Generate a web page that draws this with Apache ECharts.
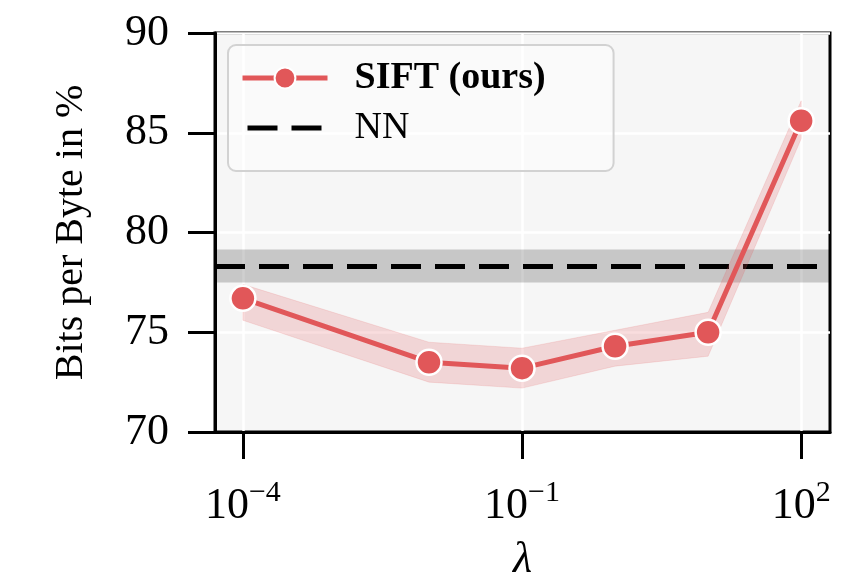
<!DOCTYPE html>
<html>
<head>
<meta charset="utf-8">
<script src="https://cdn.jsdelivr.net/npm/echarts@6/dist/echarts.min.js"></script>
<style>html,body{margin:0;padding:0;background:#fff;}#c{width:864px;height:579px;}</style>
</head>
<body>
<div id="c"></div>
<script>
// ---- data ----
const lambdas   = [1e-4, 1e-2, 1e-1, 1, 10, 100];
const siftMean  = [76.7, 73.5, 73.2, 74.3, 75.0, 85.6];
const siftLow   = [75.6, 72.5, 72.2, 73.3, 73.8, 84.7];
const siftHigh  = [77.4, 74.5, 74.2, 75.1, 76.0, 86.6];
const nnMean    = 78.3;
const nnLow     = 77.5;
const nnHigh    = 79.15;
const xTickValues = [1e-4, 1e-1, 1e2];
const xTickExps   = ['−4', '−1', '2'];
const yTicks      = [70, 75, 80, 85, 90];
const xMin = Math.pow(10, -4.3), xMax = Math.pow(10, 2.31);

const RED = '#e15759';
const FONT = '"Liberation Serif", "DejaVu Serif", serif';

const chart = echarts.init(document.getElementById('c'), null, {renderer: 'canvas'});

const bandData = lambdas.map((x, i) => [x, siftLow[i], siftHigh[i]]);

chart.setOption({
  animation: false,
  backgroundColor: '#fff',
  grid: {
    left: 215, right: 34, top: 33, bottom: 147,
    containLabel: false, outerBoundsMode: 'none',
    show: true, backgroundColor: '#f6f6f6', borderColor: '#000', borderWidth: 3
  },
  legend: {
    orient: 'vertical', left: 228, top: 45,
    padding: [14, 68, 24, 12], itemGap: 12,
    itemWidth: 85, itemHeight: 26,
    backgroundColor: 'rgba(255,255,255,0.45)', borderColor: '#d2d2d2', borderWidth: 2, borderRadius: 8,
    textStyle: {fontFamily: FONT, fontSize: 38, color: '#000', padding: [0, 0, 0, 22]},
    data: [
      {name: 'SIFT (ours)', textStyle: {fontWeight: 'bold'},
       lineStyle: {width: 5, color: RED},
       itemStyle: {color: RED, borderColor: '#fff', borderWidth: 2}},
      {name: 'NN', lineStyle: {width: 5, color: '#000', type: [30, 14], dashOffset: -5},
       itemStyle: {opacity: 0}}
    ]
  },
  xAxis: {
    type: 'log', min: xMin, max: xMax,
    name: 'λ', nameLocation: 'middle', nameGap: 106,
    nameTextStyle: {fontFamily: FONT, fontSize: 44, fontStyle: 'italic', color: '#000'},
    axisLine: {show: true, lineStyle: {color: '#000', width: 3}},
    axisTick: {show: true, customValues: xTickValues, length: 27, lineStyle: {color: '#000', width: 3}},
    splitLine: {show: true, lineStyle: {color: '#fff', width: 2.5}},
    minorSplitLine: {show: false},
    axisLabel: {
      customValues: xTickValues, margin: 46,
      formatter: function (v) {
        const i = xTickValues.findIndex(t => Math.abs(Math.log10(t) - Math.log10(v)) < 1e-6);
        return '{b|10}{s|' + (i >= 0 ? xTickExps[i] : '') + '}';
      },
      rich: {
        b: {fontFamily: FONT, fontSize: 44, color: '#000', lineHeight: 50, verticalAlign: 'bottom'},
        s: {fontFamily: FONT, fontSize: 30, color: '#000', lineHeight: 50, verticalAlign: 'top'}
      }
    }
  },
  yAxis: {
    type: 'value', min: 70, max: 90, interval: 5,
    name: 'Bits per Byte in %', nameLocation: 'middle', nameGap: 124,
    nameTextStyle: {fontFamily: FONT, fontSize: 40, color: '#000'},
    axisLine: {show: true, lineStyle: {color: '#000', width: 3}},
    axisTick: {show: true, length: 27, lineStyle: {color: '#000', width: 3}},
    splitLine: {show: true, lineStyle: {color: '#fff', width: 2.5}},
    axisLabel: {margin: 46, fontFamily: FONT, fontSize: 44, color: '#000',
      formatter: v => String(v)}
  },
  series: [
    {
      name: 'NN', type: 'line',
      data: [[xMin, nnMean], [xMax, nnMean]],
      symbol: 'none', z: 2,
      lineStyle: {color: '#000', width: 5, type: [30, 14]},
      itemStyle: {color: '#000'},
      markArea: {
        silent: true,
        itemStyle: {color: 'rgba(0,0,0,0.19)'},
        data: [[{yAxis: nnLow}, {yAxis: nnHigh}]]
      }
    },
    {
      name: 'SIFT band', type: 'custom', z: 3, silent: true,
      data: bandData,
      encode: {x: 0, y: [1, 2]},
      renderItem: function (params, api) {
        if (params.dataIndex !== 0) return null;
        const n = params.dataInsideLength;
        const top = [], bot = [];
        for (let j = 0; j < n; j++) {
          top.push(api.coord([api.value(0, j), api.value(2, j)]));
          bot.push(api.coord([api.value(0, j), api.value(1, j)]));
        }
        return {
          type: 'polygon',
          shape: {points: top.concat(bot.reverse())},
          style: {fill: 'rgba(225,87,89,0.2)', stroke: 'rgba(225,87,89,0.15)', lineWidth: 1}
        };
      }
    },
    {
      name: 'SIFT (ours)', type: 'line', z: 4,
      data: lambdas.map((x, i) => [x, siftMean[i]]),
      symbol: 'circle', symbolSize: 25,
      lineStyle: {color: RED, width: 5},
      itemStyle: {color: RED, borderColor: '#fff', borderWidth: 2.5}
    }
  ]
});
</script>
</body>
</html>
